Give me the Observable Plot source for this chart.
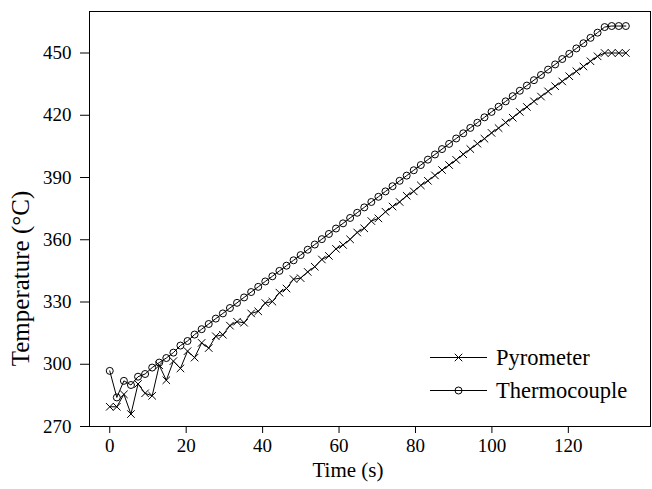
<!DOCTYPE html>
<html><head><meta charset="utf-8">
<script src="https://cdn.jsdelivr.net/npm/d3@7"></script>
<script src="https://cdn.jsdelivr.net/npm/@observablehq/plot@0.6"></script>
<style>
html,body{margin:0;padding:0;background:#fff;}
#chart{width:652px;height:489px;}
</style></head><body><div id="chart"></div>
<script>
const time = [0, 1.85, 3.7, 5.55, 7.4, 9.25, 11.1, 12.95, 14.8, 16.65, 18.5, 20.35,
  22.2, 24.05, 25.9, 27.75, 29.6, 31.45, 33.3, 35.15, 37.0, 38.85, 40.7, 42.55,
  44.4, 46.25, 48.1, 49.95, 51.8, 53.65, 55.5, 57.35, 59.2, 61.05, 62.9, 64.75,
  66.6, 68.45, 70.3, 72.15, 74.0, 75.85, 77.7, 79.55, 81.4, 83.25, 85.1, 86.95,
  88.8, 90.65, 92.5, 94.35, 96.2, 98.05, 99.9, 101.75, 103.6, 105.45, 107.3, 109.15,
  111.0, 112.85, 114.7, 116.55, 118.4, 120.25, 122.1, 123.95, 125.8, 127.65, 129.5, 131.35,
  133.2, 135.05];
const thermocouple = [296.8, 284.0, 292.0, 290.0, 294.0, 295.3, 298.4, 300.8, 303.0, 305.6, 309.0, 311.2,
  314.3, 316.9, 319.4, 322.0, 324.5, 327.1, 329.6, 332.2, 334.8, 337.3, 339.9, 342.4,
  345.0, 347.5, 350.1, 352.6, 355.2, 357.7, 360.3, 362.8, 365.4, 367.9, 370.5, 373.0,
  375.6, 378.2, 380.7, 383.3, 385.8, 388.4, 390.9, 393.5, 396.0, 398.6, 401.1, 403.7,
  406.2, 408.8, 411.3, 413.9, 416.4, 419.0, 421.6, 424.1, 426.7, 429.2, 431.8, 434.3,
  436.9, 439.4, 442.0, 444.5, 447.1, 449.6, 452.2, 454.7, 457.3, 459.8, 462.5, 463.0,
  463.0, 463.0];
const pyrometer = [279.5, 279.5, 285.5, 276.0, 290.5, 286.0, 284.8, 299.5, 292.3, 301.5, 298.0, 306.3,
  303.2, 310.3, 307.8, 313.5, 314.2, 318.6, 320.5, 320.0, 324.5, 325.5, 329.5, 330.2,
  334.5, 336.5, 341.0, 341.5, 344.5, 347.0, 350.5, 352.2, 355.6, 357.5, 360.2, 363.5,
  365.5, 369.0, 370.3, 373.5, 376.0, 378.2, 381.2, 383.3, 386.2, 388.4, 391.0, 393.6,
  396.0, 398.5, 401.2, 403.7, 406.3, 408.7, 411.5, 413.8, 416.5, 418.8, 421.6, 424.0,
  426.7, 429.0, 431.5, 434.0, 436.3, 438.8, 441.2, 443.5, 446.0, 448.4, 450.0, 450.0,
  450.0, 450.0];
const xTicks = [0, 20, 40, 60, 80, 100, 120];
const yTicks = [270, 300, 330, 360, 390, 420, 450];
const seriesNames = ["Pyrometer", "Thermocouple"];
const xTitle = "Time (s)";
const yTitle = "Temperature (°C)";

const pyro = time.map((t, i) => ({t, T: pyrometer[i]}));
const thermo = time.map((t, i) => ({t, T: thermocouple[i]}));
const FONT = "'Liberation Serif', 'Times New Roman', Times, serif";
const R = 3.5;

const chart = Plot.plot({
  width: 652, height: 489,
  marginLeft: 89, marginRight: 2, marginTop: 11, marginBottom: 63,
  style: {fontFamily: FONT, fontSize: "19px", color: "#000", background: "#fff"},
  x: {domain: [-5.3, 141.5]},
  y: {domain: [270, 470]},
  marks: [
    Plot.frame({stroke: "#000", strokeWidth: 1}),
    Plot.axisX({ticks: xTicks, tickSize: 7, tickPadding: 5, label: null, fontSize: 19, stroke: "#000"}),
    Plot.axisY({ticks: yTicks, tickSize: 9, tickPadding: 9, label: null, fontSize: 19, stroke: "#000"}),
    Plot.line(thermo, {x: "t", y: "T", stroke: "#000", strokeWidth: 1}),
    Plot.dot(thermo, {x: "t", y: "T", symbol: "circle", r: R, stroke: "#000", fill: "none", strokeWidth: 1}),
    Plot.line(pyro, {x: "t", y: "T", stroke: "#000", strokeWidth: 1}),
    Plot.dot(pyro, {x: "t", y: "T", symbol: "times", r: R, stroke: "#000", strokeWidth: 1})
  ]
});
document.getElementById("chart").appendChild(chart);

const svg = d3.select(chart);
// axis titles
svg.append("text").text(xTitle)
  .attr("x", 348).attr("y", 477)
  .attr("text-anchor", "middle").attr("font-family", FONT).attr("font-size", 21).attr("fill", "#000");
svg.append("text").text(yTitle)
  .attr("transform", "translate(29,278.5) rotate(-90)")
  .attr("text-anchor", "middle").attr("font-family", FONT).attr("font-size", 25).attr("fill", "#000");

// legend
const symbols = [d3.symbolTimes, d3.symbolCircle];
const lg = svg.append("g").attr("font-family", FONT).attr("font-size", 22.5).attr("fill", "#000")
  .attr("text-anchor", "start");
seriesNames.forEach((name, i) => {
  const cy = 357.5 + i * 33;
  lg.append("line").attr("x1", 430).attr("x2", 487).attr("y1", cy).attr("y2", cy)
    .attr("stroke", "#000").attr("stroke-width", 1);
  lg.append("path").attr("d", d3.symbol(symbols[i], Math.PI * R * R)())
    .attr("transform", `translate(458.5,${cy})`)
    .attr("fill", "none").attr("stroke", "#000").attr("stroke-width", 1);
  lg.append("text").text(name).attr("x", 496).attr("y", cy).attr("dy", "0.33em")
    .attr("text-anchor", "start");
});
</script></body></html>
